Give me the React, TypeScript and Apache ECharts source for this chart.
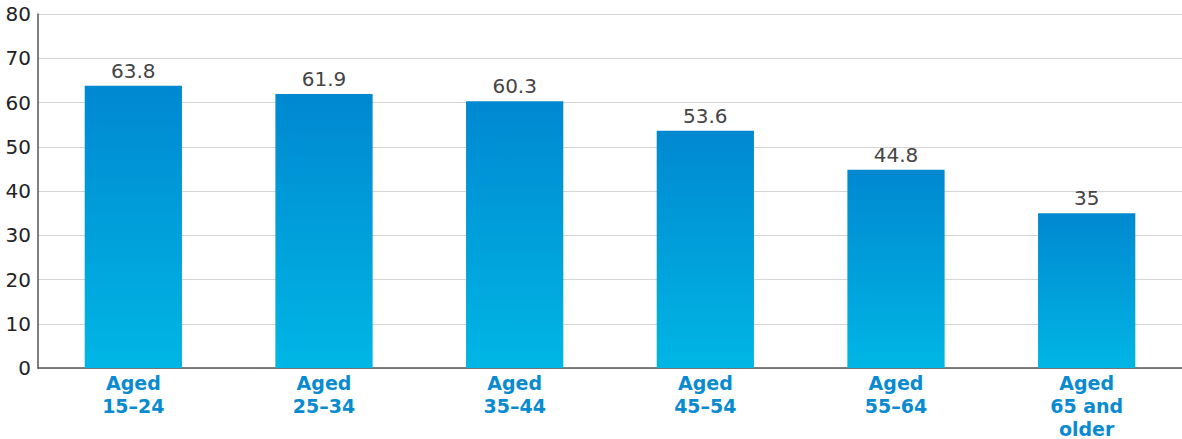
import React, { useEffect, useRef } from "react";
import * as echarts from "echarts";

const categories = ["Aged\n15–24", "Aged\n25–34", "Aged\n35–44", "Aged\n45–54", "Aged\n55–64", "Aged\n65 and\nolder"];
const values = [63.8, 61.9, 60.3, 53.6, 44.8, 35];
const yTicks = { min: 0, max: 80, interval: 10 };

export default function App() {
  const ref = useRef<HTMLDivElement>(null);
  useEffect(() => {
    document.body.style.margin = "0";
    const chart = echarts.init(ref.current!, null, { renderer: "svg" });
    chart.setOption({
      animation: false,
      grid: { left: 38, right: 0, top: 14, bottom: 71, containLabel: false, outerBoundsMode: "none" },
      xAxis: {
        type: "category",
        data: categories,
        axisLine: { lineStyle: { color: "#555", width: 1.5 } },
        axisTick: { show: false },
        axisLabel: {
          color: "#0a8bd0",
          fontFamily: "DejaVu Sans",
          fontWeight: "bold",
          fontSize: 19,
          lineHeight: 23,
          margin: 3,
          interval: 0,
        },
      },
      yAxis: {
        type: "value",
        min: yTicks.min,
        max: yTicks.max,
        interval: yTicks.interval,
        axisLine: { show: true, lineStyle: { color: "#555", width: 1.5 } },
        axisTick: { show: false },
        splitLine: { lineStyle: { color: "#d4d4d4", width: 1 } },
        axisLabel: { color: "#222", fontFamily: "DejaVu Sans", fontSize: 20, margin: 7 },
      },
      series: [
        {
          type: "bar",
          data: values,
          barWidth: "51%",
          itemStyle: {
            color: new echarts.graphic.LinearGradient(0, 0, 0, 1, [
              { offset: 0, color: "#0088d0" },
              { offset: 1, color: "#00b6e5" },
            ]),
          },
          label: {
            show: true,
            position: "top",
            distance: 5,
            color: "#444",
            fontFamily: "DejaVu Sans",
            fontSize: 20,
          },
        },
      ],
    });
    return () => chart.dispose();
  }, []);
  return <div ref={ref} style={{ width: 1182, height: 439 }} />;
}
